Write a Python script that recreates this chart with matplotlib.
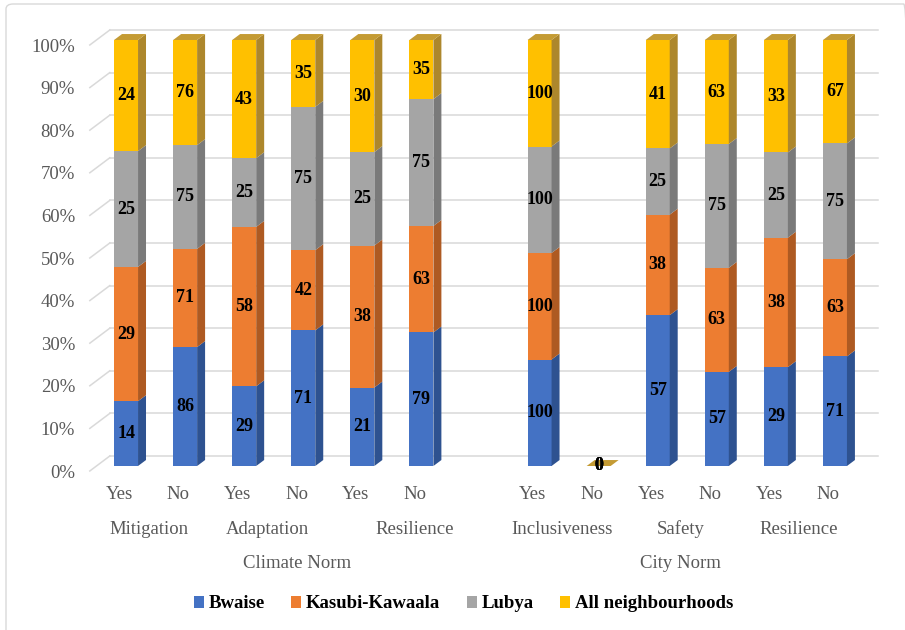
import numpy as np
import matplotlib
matplotlib.use("Agg")
import matplotlib.pyplot as plt
from matplotlib.patches import Polygon, Patch, FancyBboxPatch

plt.rcParams["font.family"] = ["Liberation Serif", "DejaVu Serif"]

# survey counts per column (Yes / No for each norm item)
answers = ["Yes", "No"] * 6
subgroups = ["Mitigation", "Adaptation", "Resilience", "Inclusiveness", "Safety", "Resilience"]
norms = ["Climate Norm", "City Norm"]
series = ["Bwaise", "Kasubi-Kawaala", "Lubya", "All neighbourhoods"]
bwaise = [14, 86, 29, 71, 21, 79, 100, 0, 57, 57, 29, 71]
kasubi = [29, 71, 58, 42, 38, 63, 100, 0, 38, 63, 38, 63]
lubya = [25, 75, 25, 75, 25, 75, 100, 0, 25, 75, 25, 75]
all_nb = [24, 76, 43, 35, 30, 35, 100, 0, 41, 63, 33, 67]

# slot layout: one empty slot between the two norms
x = np.r_[0:6, 7:13]
sub_spans = [(0, 1), (2, 3), (4, 6), (7, 8), (9, 10), (11, 12)]
norm_spans = [(0, 6), (7, 12)]

front = ["#4472C4", "#ED7D31", "#A5A5A5", "#FFC000"]
side = ["#2E5290", "#AE5A22", "#7A7A7A", "#AD872C"]
top_col = "#C49B34"
grid_col = "#D9D9D9"
txt_col = "#595959"

fig = plt.figure(figsize=(9.05, 6.3), dpi=100)
ax = fig.add_axes([96.5 / 905, 164 / 630, 768 / 905, 426 / 630])
ax.set_xlim(-0.5, 12.5)
ax.set_ylim(0, 1)
ax.axis("off")

BW = 0.406
DX, DY = 0.135, 0.014          # bar depth
FX, FY = -0.113, -0.0117       # floor front edge
BX, BY = 0.225, 0.0235         # back wall

# back wall grid + slanted floor lines
for g in np.arange(0, 1.001, 0.1):
    ax.plot([-0.5 + BX, 12.5 + BX], [g + BY, g + BY], color=grid_col, lw=1.1,
            zorder=1, clip_on=False)
    ax.plot([-0.5 + FX, -0.5 + BX], [g + FY, g + BY], color=grid_col, lw=1.1,
            zorder=1, clip_on=False)
    ax.text(-0.5 + FX - 0.25, g + FY - 0.005, f"{int(round(g * 100))}%", ha="right",
            va="center", fontsize=13.5, color=txt_col)

vals = np.array([bwaise, kasubi, lubya, all_nb], dtype=float)
tot = vals.sum(axis=0)
shares = np.divide(vals, tot, out=np.zeros_like(vals), where=tot > 0)

bottom = np.zeros(len(x))
for i in range(len(series)):
    ax.bar(x, shares[i], bottom=bottom, width=BW, color=front[i], linewidth=0,
           zorder=3, clip_on=False)
    for xi, b, h, v in zip(x, bottom, shares[i], vals[i]):
        xr = xi + BW / 2
        ax.add_patch(Polygon([(xr, b), (xr + DX, b + DY), (xr + DX, b + h + DY), (xr, b + h)],
                             closed=True, fc=side[i], lw=0, zorder=3, clip_on=False))
        ax.text(xi, b + h / 2, f"{int(v)}", ha="center", va="center",
                fontsize=13, fontweight="bold", color="black", zorder=6)
    bottom = bottom + shares[i]

for xi, t in zip(x, bottom):
    ax.add_patch(Polygon([(xi - BW / 2, t), (xi + BW / 2, t), (xi + BW / 2 + DX, t + DY),
                          (xi - BW / 2 + DX, t + DY)],
                         closed=True, fc=top_col, lw=0, zorder=4, clip_on=False))

# multi-level category labels
for xi, a in zip(x, answers):
    ax.text(xi + FX, -0.068, a, ha="center", va="center", fontsize=13.5, color=txt_col)
for (s0, s1), name in zip(sub_spans, subgroups):
    ax.text((s0 + s1) / 2 + FX, -0.148, name, ha="center", va="center",
            fontsize=13.5, color=txt_col)
for (s0, s1), name in zip(norm_spans, norms):
    ax.text((s0 + s1) / 2 + FX, -0.228, name, ha="center", va="center",
            fontsize=13.5, color=txt_col)

handles = [Patch(facecolor=c, label=s) for c, s in zip(front, series)]
fig.legend(handles=handles, loc="center", bbox_to_anchor=(463.5 / 905, 1 - 604 / 630),
           ncol=4, frameon=False, prop={"weight": "bold", "size": 13.5},
           handlelength=0.55, handleheight=0.55, handletextpad=0.25, columnspacing=1.4)

# chart frame: only top and left edges fall inside the picture
fig.patches.append(FancyBboxPatch((6 / 905, -0.05), 1.0, 1.05 - 4 / 630,
                                  boxstyle="round,pad=0,rounding_size=0.008",
                                  transform=fig.transFigure, fc="none",
                                  ec=grid_col, lw=1))

fig.savefig("out.png", dpi=100)
